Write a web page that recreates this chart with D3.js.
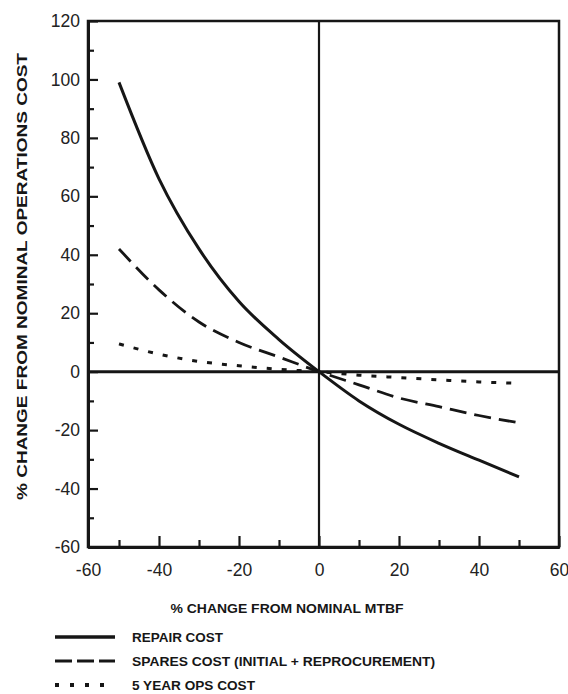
<!DOCTYPE html>
<html>
<head>
<meta charset="utf-8">
<script src="https://cdn.jsdelivr.net/npm/d3@7/dist/d3.min.js"></script>
<style>
  html, body { margin: 0; padding: 0; background: #fff; }
  svg { display: block; }
  text { font-family: "Liberation Sans", Arial, sans-serif; }
</style>
</head>
<body>
<script>
// ---- Data ----
const mtbfChange = [-50, -40, -30, -20, -10, 0, 10, 20, 30, 40, 50];
const repairCost = [99, 66, 42, 24, 11, 0, -10, -18, -24.5, -30.3, -36];
const sparesCost = [42, 28, 17, 10, 5, 0, -4.5, -9, -12, -15, -17.5];
const opsCost = [9.5, 6, 3.5, 2, 0.8, 0, -1.2, -2, -2.8, -3.5, -4];

const xMajorTicks = [-60, -40, -20, 0, 20, 40, 60];
const xMinorTicks = [-50, -30, -10, 10, 30, 50];
const yMajorTicks = [-60, -40, -20, 0, 20, 40, 60, 80, 100, 120];
const yMinorTicks = [-50, -30, -10, 10, 30, 50, 70, 90, 110];

const seriesNames = ["REPAIR COST", "SPARES COST (INITIAL + REPROCUREMENT)", "5 YEAR OPS COST"];
const xTitle = "% CHANGE FROM NOMINAL MTBF";
const yTitle = "% CHANGE FROM NOMINAL OPERATIONS COST";

// ---- Layout ----
const W = 568, H = 694;
const svg = d3.select("body").append("svg").attr("width", W).attr("height", H);

// The original axis is slightly compressed between its left edge (-60) and -50
const x = d3.scaleLinear().domain([-60, -50, 60]).range([88, 119, 559]);
const y = d3.scaleLinear().domain([-60, 120]).range([547, 21]);

const ink = "#161616";

// frame
svg.append("rect")
  .attr("x", x(-60)).attr("y", y(120))
  .attr("width", x(60) - x(-60)).attr("height", y(-60) - y(120))
  .attr("fill", "none").attr("stroke", ink).attr("stroke-width", 2.5);

// zero lines
svg.append("line").attr("x1", x(-60)).attr("x2", x(60)).attr("y1", y(0)).attr("y2", y(0))
  .attr("stroke", ink).attr("stroke-width", 3);
svg.append("line").attr("x1", x(0)).attr("x2", x(0)).attr("y1", y(120)).attr("y2", y(-60))
  .attr("stroke", ink).attr("stroke-width", 2.2);

// axes
function styleAxis(g) {
  g.select(".domain").attr("stroke", ink).attr("stroke-width", 3);
  g.selectAll(".tick line").attr("stroke", ink).attr("stroke-width", 2.2);
  g.selectAll(".tick text").attr("fill", "#222").attr("font-size", 17.5)
    .attr("font-family", "'Liberation Sans', Arial, sans-serif");
}
const fmt = d => String(d);

const yAxisMajor = svg.append("g").attr("transform", `translate(${x(-60)},0)`)
  .call(d3.axisLeft(y).tickValues(yMajorTicks).tickSize(-10).tickPadding(8).tickSizeOuter(0).tickFormat(fmt));
styleAxis(yAxisMajor);
const yAxisMinor = svg.append("g").attr("transform", `translate(${x(-60)},0)`)
  .call(d3.axisLeft(y).tickValues(yMinorTicks).tickSize(-6).tickFormat("").tickSizeOuter(0));
styleAxis(yAxisMinor);

const xAxisMajor = svg.append("g").attr("transform", `translate(0,${y(-60)})`)
  .call(d3.axisBottom(x).tickValues(xMajorTicks).tickSize(-11).tickPadding(17).tickSizeOuter(0).tickFormat(fmt));
styleAxis(xAxisMajor);
const xAxisMinor = svg.append("g").attr("transform", `translate(0,${y(-60)})`)
  .call(d3.axisBottom(x).tickValues(xMinorTicks).tickSize(-7).tickFormat("").tickSizeOuter(0));
styleAxis(xAxisMinor);

// series
const series = [
  { name: seriesNames[0], values: repairCost, dash: null, width: 3 },
  { name: seriesNames[1], values: sparesCost, dash: "17,8", width: 2.8 },
  { name: seriesNames[2], values: opsCost, dash: "5,10", width: 3 }
];

const line = d3.line()
  .x((d, i) => x(mtbfChange[i]))
  .y(d => y(d))
  .curve(d3.curveMonotoneX);

series.forEach(s => {
  svg.append("path")
    .attr("d", line(s.values))
    .attr("fill", "none")
    .attr("stroke", ink)
    .attr("stroke-width", s.width)
    .attr("stroke-dasharray", s.dash);
});

// axis titles
svg.append("text")
  .attr("transform", `translate(27,${(53 + 500) / 2}) rotate(-90)`)
  .attr("text-anchor", "middle")
  .attr("font-weight", "bold").attr("font-size", 14).attr("fill", ink)
  .attr("textLength", 447).attr("lengthAdjust", "spacingAndGlyphs")
  .text(yTitle);

svg.append("text")
  .attr("x", 287).attr("y", 613)
  .attr("text-anchor", "middle")
  .attr("font-weight", "bold").attr("font-size", 13).attr("fill", ink)
  .attr("textLength", 233).attr("lengthAdjust", "spacingAndGlyphs")
  .text(xTitle);

// legend
const legendWidths = [91, 303, 123];
const legendY = [637, 661, 685];
series.forEach((s, i) => {
  svg.append("line")
    .attr("x1", 55).attr("x2", i === 2 ? 104 : 115)
    .attr("y1", legendY[i]).attr("y2", legendY[i])
    .attr("stroke", ink)
    .attr("stroke-width", i === 0 ? 3.5 : (i === 1 ? 3 : 4))
    .attr("stroke-dasharray", i === 0 ? null : (i === 1 ? "17,5" : "4,11"));
  svg.append("text")
    .attr("x", 132).attr("y", legendY[i] + 5)
    .attr("font-weight", "bold").attr("font-size", 13.5).attr("fill", ink)
    .attr("textLength", legendWidths[i]).attr("lengthAdjust", "spacingAndGlyphs")
    .text(s.name);
});
</script>
</body>
</html>
